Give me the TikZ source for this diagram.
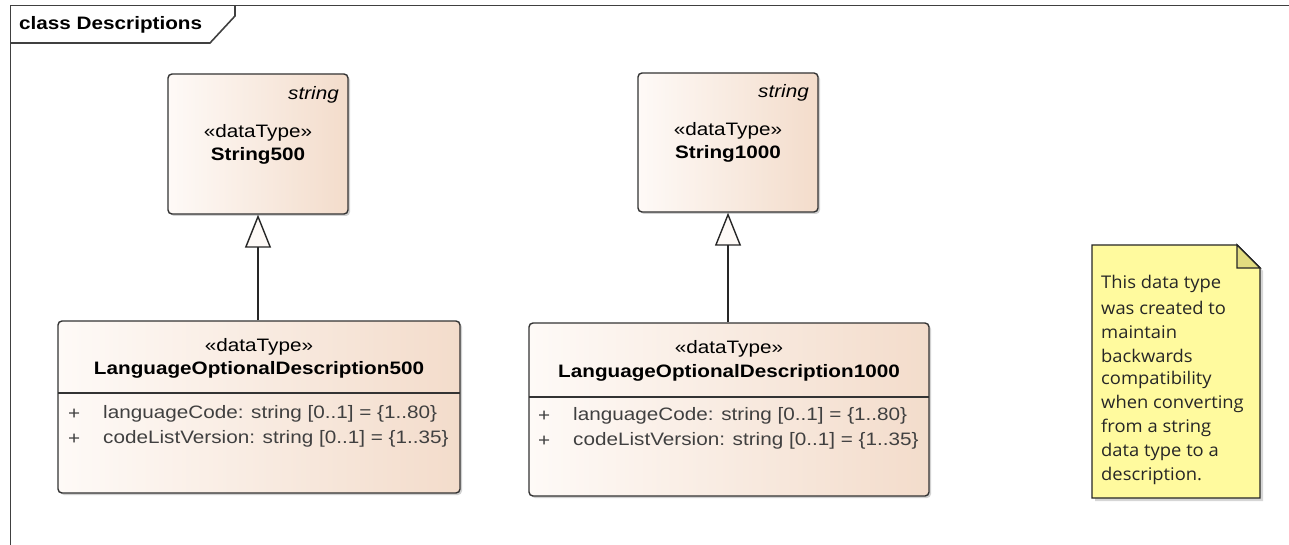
\documentclass[tikz,border=0pt]{standalone}
\usepackage{fontspec}
\setmainfont{Liberation Sans}[FakeStretch=1.15]
\newfontfamily\notefont{Open Sans}[FakeStretch=1.05]
\usetikzlibrary{arrows.meta,shadows}
\definecolor{boxL}{HTML}{FEFAF7}
\definecolor{boxR}{HTML}{F3DCCB}
\definecolor{noteY}{HTML}{FFFA9E}
\definecolor{foldY}{HTML}{E2DC80}
\definecolor{frameC}{HTML}{404040}
\newcommand{\fs}{\fontsize{18pt}{21pt}\selectfont}
\newcommand{\nfs}{\fontsize{17.5pt}{20pt}\selectfont}
\tikzset{
  cls/.style={draw=black!80, line width=1.4pt, rounded corners=4pt,
    left color=boxL, right color=boxR,
    drop shadow={shadow xshift=2pt, shadow yshift=-2pt, opacity=0.3, fill=black!60}},
  txt/.style={font=\fs, inner sep=0pt, text=black},
  bold/.style={font=\fs\bfseries, inner sep=0pt},
  attr/.style={font=\fs, inner sep=0pt, text=black!75, anchor=west},
  gen/.style={line width=1.4pt, draw=black!85,
    -{Triangle[open, length=33pt, width=26pt, fill=boxL]}},
  notetxt/.style={font=\notefont\nfs, inner sep=0pt, anchor=west, text=black!85}
}
\begin{document}
\begin{tikzpicture}[x=1pt,y=-1pt]
\useasboundingbox (0,0) rectangle (1289,545);
% frame
\draw[frameC, line width=1.6pt] (10.5,545) -- (10.5,5.5) -- (1289,5.5);
\draw[frameC, line width=1.6pt] (10.5,43) -- (210,43) -- (235,16) -- (235,5.5);
\node[font=\fs\bfseries, anchor=west, inner sep=0pt] (title) at (19,25) {class Descriptions};

% String500
\node[cls, minimum width=180pt, minimum height=140pt] (s500) at (258,144) {};
\node[txt, font=\fs\itshape, anchor=east] (s500t) at (339,95) {string};
\node[txt] (s500s) at (258,133) {«dataType»};
\node[bold] (s500n) at (258,156) {String500};

% String1000
\node[cls, minimum width=180pt, minimum height=139pt] (s1000) at (728,142.5) {};
\node[txt, font=\fs\itshape, anchor=east] (s1000t) at (809,93) {string};
\node[txt] (s1000s) at (728,131) {«dataType»};
\node[bold] (s1000n) at (728,154) {String1000};

% LanguageOptionalDescription500
\node[cls, minimum width=402pt, minimum height=172pt] (l500) at (259,407) {};
\draw[black!80, line width=1.4pt] (58,393) -- (460,393);
\node[txt] (l500s) at (259,347) {«dataType»};
\node[bold] (l500n) at (259,370) {LanguageOptionalDescription500};
\node[attr] (l500p1) at (68,414) {+};
\node[attr] (l500a1) at (103,414) {languageCode: string [0..1] = \{1..80\}};
\node[attr] (l500p2) at (68,439) {+};
\node[attr] (l500a2) at (103,439) {codeListVersion: string [0..1] = \{1..35\}};

% LanguageOptionalDescription1000
\node[cls, minimum width=400pt, minimum height=173pt] (l1000) at (729,409.5) {};
\draw[black!80, line width=1.4pt] (529,397) -- (929,397);
\node[txt] (l1000s) at (729,349) {«dataType»};
\node[bold] (l1000n) at (729,373) {LanguageOptionalDescription1000};
\node[attr] (l1000p1) at (538,416) {+};
\node[attr] (l1000a1) at (573,416) {languageCode: string [0..1] = \{1..80\}};
\node[attr] (l1000p2) at (538,441) {+};
\node[attr] (l1000a2) at (573,441) {codeListVersion: string [0..1] = \{1..35\}};

% generalizations
\draw[gen] (l500.north -| s500.south) -- (s500.south);
\draw[gen] (l1000.north -| s1000.south) -- (s1000.south);

% note
\coordinate (nA) at (1092,245);
\coordinate (nB) at (1237,245);
\coordinate (nC) at (1260,268);
\coordinate (nD) at (1260,498);
\coordinate (nE) at (1092,498);
\fill[black!40, opacity=0.4] ([xshift=3pt,yshift=-3pt]nA) -- ([xshift=3pt,yshift=-3pt]nB) -- ([xshift=3pt,yshift=-3pt]nC) -- ([xshift=3pt,yshift=-3pt]nD) -- ([xshift=3pt,yshift=-3pt]nE) -- cycle;
\draw[line width=1.4pt, draw=black!85, fill=noteY] (nA) -- (nB) -- (nC) -- (nD) -- (nE) -- cycle;
\draw[line width=1.4pt, draw=black!85, fill=foldY] (nB) -- (nB |- nC) -- (nC) -- cycle;
\node[notetxt] (n1) at (1101,284) {This data type};
\node[notetxt] (n2) at (1101,308) {was created to};
\node[notetxt] (n3) at (1101,332) {maintain};
\node[notetxt] (n4) at (1101,356) {backwards};
\node[notetxt] (n5) at (1101,380) {compatibility};
\node[notetxt] (n6) at (1101,404) {when converting};
\node[notetxt] (n7) at (1101,428) {from a string};
\node[notetxt] (n8) at (1101,452) {data type to a};
\node[notetxt] (n9) at (1101,476) {description.};
\end{tikzpicture}
\end{document}
